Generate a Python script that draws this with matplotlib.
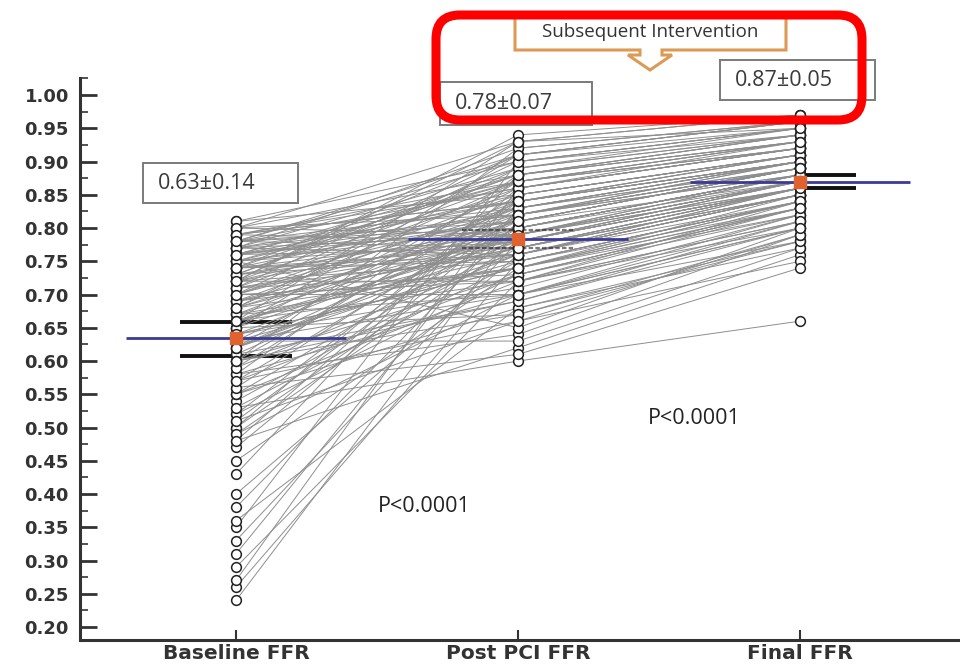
import numpy as np
import matplotlib
matplotlib.use("Agg")
import matplotlib.pyplot as plt
from matplotlib.patches import Rectangle, FancyBboxPatch, Polygon
from matplotlib.ticker import MultipleLocator
from matplotlib.transforms import IdentityTransform

# FFR per patient: baseline -> post PCI -> final
baseline = [0.24, 0.26, 0.27, 0.29, 0.31, 0.33, 0.35, 0.36, 0.38, 0.40,
            0.43, 0.45, 0.48, 0.49, 0.50, 0.51, 0.52, 0.53, 0.54, 0.55,
            0.56, 0.57, 0.58, 0.59, 0.60, 0.60, 0.61, 0.62, 0.62, 0.63,
            0.64, 0.64, 0.65, 0.65, 0.66, 0.66, 0.67, 0.67, 0.68, 0.68,
            0.69, 0.69, 0.70, 0.70, 0.70, 0.71, 0.71, 0.72, 0.72, 0.72,
            0.73, 0.73, 0.73, 0.74, 0.74, 0.74, 0.75, 0.75, 0.75, 0.75,
            0.76, 0.76, 0.76, 0.76, 0.77, 0.77, 0.77, 0.77, 0.78, 0.78,
            0.78, 0.78, 0.79, 0.79, 0.79, 0.80, 0.80, 0.81, 0.63, 0.58,
            0.57, 0.68, 0.71, 0.74, 0.55, 0.62, 0.66, 0.69, 0.72, 0.47,
            0.50, 0.52, 0.55, 0.58, 0.60, 0.63, 0.65, 0.67, 0.70, 0.73,
            0.75, 0.77, 0.79, 0.80, 0.81, 0.78, 0.76, 0.74, 0.72, 0.70,
            0.68, 0.66, 0.64, 0.61, 0.59, 0.56, 0.53, 0.51, 0.49, 0.48,
            0.80, 0.78, 0.76, 0.74, 0.72, 0.71, 0.69, 0.67, 0.65, 0.62,
            0.79, 0.77, 0.75, 0.73, 0.71, 0.69, 0.66, 0.63, 0.60, 0.57,
            0.60, 0.62, 0.64, 0.66, 0.68, 0.70, 0.72, 0.74, 0.76, 0.78]
post_pci = [0.80, 0.75, 0.86, 0.72, 0.83, 0.78, 0.90, 0.68, 0.81, 0.76,
            0.88, 0.74, 0.62, 0.70, 0.79, 0.66, 0.84, 0.60, 0.77, 0.72,
            0.61, 0.82, 0.64, 0.85, 0.73, 0.92, 0.69, 0.78, 0.87, 0.75,
            0.71, 0.80, 0.67, 0.86, 0.76, 0.93, 0.74, 0.83, 0.79, 0.89,
            0.77, 0.84, 0.72, 0.81, 0.90, 0.78, 0.86, 0.75, 0.82, 0.94,
            0.80, 0.76, 0.88, 0.79, 0.83, 0.91, 0.65, 0.78, 0.85, 0.81,
            0.82, 0.77, 0.87, 0.80, 0.84, 0.79, 0.89, 0.76, 0.83, 0.86,
            0.80, 0.90, 0.84, 0.78, 0.87, 0.82, 0.88, 0.85, 0.63, 0.70,
            0.73, 0.74, 0.91, 0.76, 0.68, 0.81, 0.77, 0.80, 0.72, 0.82,
            0.86, 0.73, 0.80, 0.88, 0.67, 0.84, 0.91, 0.79, 0.85, 0.89,
            0.87, 0.92, 0.86, 0.93, 0.90, 0.91, 0.84, 0.88, 0.87, 0.83,
            0.81, 0.78, 0.74, 0.80, 0.76, 0.83, 0.75, 0.82, 0.78, 0.85,
            0.79, 0.77, 0.81, 0.75, 0.79, 0.73, 0.77, 0.70, 0.79, 0.76,
            0.84, 0.82, 0.80, 0.78, 0.76, 0.74, 0.72, 0.70, 0.69, 0.66,
            0.84, 0.79, 0.74, 0.82, 0.87, 0.70, 0.93, 0.77, 0.88, 0.81]
final = [0.88, 0.84, 0.92, 0.80, 0.89, 0.86, 0.94, 0.77, 0.87, 0.85,
         0.93, 0.82, 0.76, 0.78, 0.86, 0.75, 0.90, 0.66, 0.85, 0.81,
         0.74, 0.89, 0.79, 0.91, 0.83, 0.96, 0.80, 0.87, 0.92, 0.84,
         0.82, 0.88, 0.78, 0.92, 0.86, 0.97, 0.84, 0.90, 0.87, 0.94,
         0.85, 0.91, 0.83, 0.89, 0.95, 0.86, 0.92, 0.84, 0.90, 0.97,
         0.88, 0.85, 0.93, 0.87, 0.90, 0.95, 0.80, 0.86, 0.91, 0.89,
         0.90, 0.86, 0.92, 0.88, 0.91, 0.87, 0.94, 0.85, 0.89, 0.93,
         0.88, 0.95, 0.90, 0.86, 0.93, 0.89, 0.94, 0.91, 0.77, 0.81,
         0.82, 0.83, 0.96, 0.84, 0.78, 0.89, 0.85, 0.87, 0.81, 0.88,
         0.92, 0.83, 0.88, 0.94, 0.79, 0.90, 0.96, 0.86, 0.91, 0.95,
         0.93, 0.96, 0.92, 0.97, 0.95, 0.96, 0.91, 0.94, 0.93, 0.90,
         0.89, 0.87, 0.84, 0.88, 0.85, 0.90, 0.83, 0.88, 0.86, 0.91,
         0.87, 0.86, 0.89, 0.84, 0.88, 0.83, 0.86, 0.80, 0.88, 0.85,
         0.90, 0.89, 0.88, 0.87, 0.86, 0.85, 0.84, 0.82, 0.81, 0.79,
         0.90, 0.87, 0.83, 0.89, 0.92, 0.80, 0.95, 0.86, 0.93, 0.89]

groups = ["Baseline FFR", "Post PCI FFR", "Final FFR"]
means = [0.635, 0.783, 0.869]
ci_low = [0.608, 0.770, 0.860]
ci_high = [0.659, 0.797, 0.880]
labels = ["0.63\u00b10.14", "0.78\u00b10.07", "0.87\u00b10.05"]

W, H = 960, 665
fig = plt.figure(figsize=(W / 100, H / 100), dpi=100)


def px(x, y):
    return (x / W, 1 - y / H)


ax = fig.add_axes([80 / W, 1 - 640 / H, 1 - 80 / W, (640 - 78) / H])
ax.set_xlim(-0.553, 2.567)
ax.set_ylim(0.1805, 1.0256)

data = np.array([baseline, post_pci, final])
xs = np.arange(3)
for k in range(data.shape[1]):
    ax.plot(xs, data[:, k], color="#8e8e8e", lw=0.7, zorder=2)

# black bars (baseline both sides, post pci faint dashed, final right side)
ax.hlines([ci_low[0], ci_high[0]], -0.2, 0.2, color="#111111", lw=2.8,
          zorder=1.5)
ax.hlines([ci_low[1], ci_high[1]], 0.8, 1.2, color="#222222", lw=1.6,
          linestyles=(0, (2, 1)), alpha=0.6, zorder=2.5)
ax.hlines([ci_low[2], ci_high[2]], 2.0, 2.2, color="#111111", lw=2.8,
          zorder=1.5)

for i in range(3):
    ax.hlines(means[i], i - 0.39, i + 0.39, color="#3b3b96", lw=2, zorder=3)
    ax.plot(np.full(data.shape[1], i), data[i], "o", ms=7, mfc="white",
            mec="#222222", mew=1.1, zorder=4)
    ax.plot(i, means[i], "s", ms=8, color="#e0622e", zorder=5)

for s in ["top", "right"]:
    ax.spines[s].set_visible(False)
for s in ["left", "bottom"]:
    ax.spines[s].set_linewidth(2.2)
    ax.spines[s].set_color("#333333")

ax.set_xticks(xs)
ax.set_xticklabels(groups)
ax.yaxis.set_minor_locator(MultipleLocator(0.025))
ax.set_yticks(np.arange(0.20, 1.001, 0.05))
ax.set_yticklabels(["%.2f" % v for v in np.arange(0.20, 1.001, 0.05)])
ax.tick_params(axis="y", which="major", direction="in", length=12, width=2,
               color="#333333", pad=8)
ax.tick_params(axis="y", which="minor", direction="in", length=6, width=1.2,
               color="#333333")
ax.tick_params(axis="x", direction="in", length=7, width=1.5,
               color="#333333", pad=3)
for t in ax.get_yticklabels():
    t.set_fontsize(13)
    t.set_fontweight("bold")
    t.set_color("#333333")
for t in ax.get_xticklabels():
    t.set_fontsize(14.5)
    t.set_fontweight("bold")
    t.set_color("#333333")

# value boxes
boxes = [(143, 163, 298, 203), (440, 82, 592, 125), (720, 60, 875, 100)]
for (x0, y0, x1, y1), lab in zip(boxes, labels):
    fig.patches.append(Rectangle(px(x0, y1), (x1 - x0) / W, (y1 - y0) / H,
                                 transform=fig.transFigure, fc="white",
                                 ec="#7a7a7a", lw=1.4, zorder=6))
    fig.text(*px(x0 + 15, (y0 + y1) / 2), lab, ha="left", va="center",
             fontsize=15.5, family="Open Sans", color="#3a3a3a", zorder=7)

# p-values
fig.text(*px(378, 506), "P<0.0001", fontsize=15.5, family="Open Sans",
         color="#222222", va="center")
fig.text(*px(648, 418), "P<0.0001", fontsize=15.5, family="Open Sans",
         color="#222222", va="center")

# callout
callout = [(515, 14), (786, 14), (786, 50), (662, 50), (662, 55), (672, 55),
           (650, 70), (628, 55), (640, 55), (640, 50), (515, 50)]
fig.patches.append(Polygon([px(x, y) for x, y in callout], closed=True,
                           transform=fig.transFigure, fc="white",
                           ec="#dc9a55", lw=2.2, zorder=6))
fig.text(*px(650, 32), "Subsequent Intervention", ha="center", va="center",
         fontsize=13.5, family="Open Sans", color="#333333", zorder=7)

# red highlight (pixel coordinates)
fig.patches.append(FancyBboxPatch((436, H - 120), 862 - 436, 120 - 15,
                                  boxstyle="round,pad=0,rounding_size=24",
                                  transform=IdentityTransform(), fc="none",
                                  ec="#ff0000", lw=6.5, zorder=8))

fig.savefig("out.png", dpi=100)
